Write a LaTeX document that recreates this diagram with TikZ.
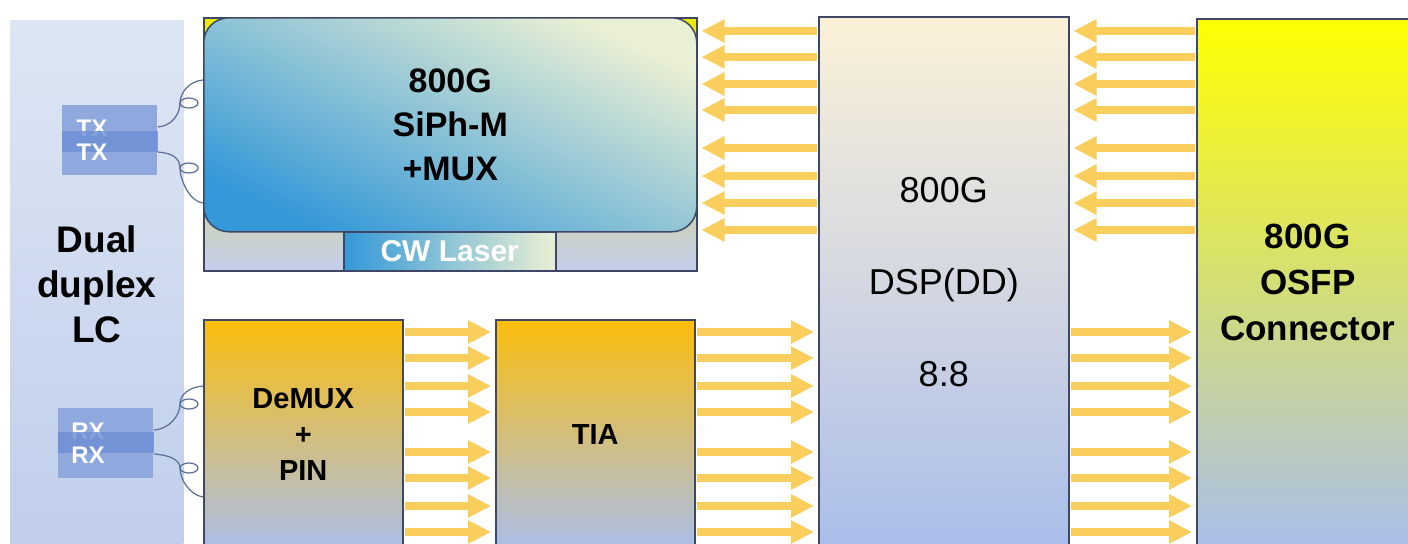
\documentclass[tikz,border=0pt]{standalone}
\usepackage{fontspec}
\setmainfont{Liberation Sans}
\usetikzlibrary{arrows.meta}
\definecolor{lctop}{RGB}{221,230,243}
\definecolor{lcbottom}{RGB}{192,206,236}
\definecolor{portblue}{RGB}{143,168,222}
\definecolor{portband}{RGB}{108,142,212}
\definecolor{edgegray}{RGB}{62,72,102}
\definecolor{fibergray}{RGB}{92,110,150}
\definecolor{laneyellow}{RGB}{250,206,92}
\definecolor{chipblue}{RGB}{52,152,216}
\definecolor{chiplight}{RGB}{234,240,212}
\definecolor{rxorange}{RGB}{252,190,12}
\definecolor{rxmid}{RGB}{192,189,178}
\definecolor{paleblue}{RGB}{170,190,234}
\definecolor{dspcream}{RGB}{252,241,216}
\definecolor{dspmid}{RGB}{204,211,227}
\definecolor{osfpyellow}{RGB}{255,255,0}
\definecolor{osfpolive}{RGB}{205,217,140}
\definecolor{corneryellow}{RGB}{235,235,0}
\definecolor{basefill}{RGB}{196,205,236}

\begin{document}
\begin{tikzpicture}[x=0.5pt, y=-0.5pt,
    block/.style={draw=edgegray, line width=0.75pt, rectangle, anchor=north west, inner sep=0pt, align=center},
    lane/.style={draw=laneyellow, line width=4pt, -{Triangle[length=11.5pt, width=11pt]}, shorten >=2pt, shorten <=0.5pt},
    fiber/.style={draw=fibergray, line width=0.6pt},
    porttext/.style={text=white, font=\fontsize{12}{12}\selectfont\bfseries, inner sep=0pt}]
    \useasboundingbox (0,0) rectangle (1408,543);
    \fill[white] (0,0) rectangle (1408,543);

    % Dual duplex LC
    \node[anchor=north west, inner sep=0pt, minimum width=86.5pt, minimum height=264pt, top color=lctop, bottom color=lcbottom, align=center, font=\fontsize{18.5}{22.5}\selectfont\bfseries] (lc) at (10,20) {Dual\\duplex\\LC};

    % TX and RX ports
    \node[anchor=north west, inner sep=0pt, fill=portblue, minimum width=47.5pt, minimum height=35pt] (txlc) at (62,105) {};
    \node[porttext] (txa) at (92,128) {TX};
    \fill[portband, opacity=0.8] (txlc.west |- 0,131) rectangle (txlc.east |- 0,152);
    \node[porttext] (txb) at (92,152) {TX};

    \node[anchor=north west, inner sep=0pt, fill=portblue, minimum width=47.5pt, minimum height=35pt] (rxlc) at (58,408) {};
    \node[porttext] (rxa) at (88,431) {RX};
    \fill[portband, opacity=0.8] (rxlc.west |- 0,432) rectangle (rxlc.east |- 0,453);
    \node[porttext] (rxb) at (88,455) {RX};

    % Transmitter
    \node[block, minimum width=246.5pt, minimum height=126.5pt, top color=corneryellow, bottom color=basefill] (siph) at (203,17) {};
    \node[block, minimum width=246.5pt, minimum height=107pt, rounded corners=12.5pt, bottom color=chipblue, top color=chiplight, shading angle=-25, font=\fontsize{17}{22}\selectfont\bfseries] (mod) at (203,17) {800G\\SiPh-M\\+MUX};
    \node[block, minimum width=106pt, minimum height=19.5pt, left color=chipblue, right color=chiplight, text=white, font=\fontsize{15}{15}\selectfont\bfseries] (laser) at (343,231) {CW Laser};

    % Receiver
    \node[block, minimum width=99.5pt, minimum height=114.5pt, top color=rxorange, middle color=rxmid, bottom color=paleblue, font=\fontsize{14.5}{18}\selectfont\bfseries] (demux) at (203,319) {DeMUX\\+\\PIN};
    \node[block, minimum width=99.5pt, minimum height=114.5pt, top color=rxorange, middle color=rxmid, bottom color=paleblue, font=\fontsize{14.5}{18}\selectfont\bfseries] (tia) at (495,319) {TIA};

    % DSP and connector
    \node[block, minimum width=125pt, minimum height=265pt, top color=dspcream, middle color=dspmid, bottom color=paleblue, font=\fontsize{18}{46}\selectfont] (dsp) at (818,16) {800G\\DSP(DD)\\8:8};
    \node[block, minimum width=111pt, minimum height=264pt, top color=osfpyellow, middle color=osfpolive, bottom color=paleblue, font=\fontsize{17.5}{23}\selectfont\bfseries] (osfp) at (1196,18) {800G\\OSFP\\Connector};

    % Fibers
    \draw[fiber] (txlc.east |- 0,127) .. controls (172,126) and (180,114) .. (180,103) .. controls (180,92) and (190,81) .. (mod.west |- 0,80);
    \draw[fiber] (189,103) ellipse [x radius=4.5pt, y radius=2.5pt];
    \draw[fiber] (txlc.east |- 0,152) .. controls (172,153) and (180,158) .. (180,168) .. controls (180,180) and (190,202) .. (mod.west |- 0,203);
    \draw[fiber] (189,168) ellipse [x radius=4.5pt, y radius=2.5pt];
    \draw[fiber] (rxlc.east |- 0,430) .. controls (170,429) and (180,415) .. (180,404) .. controls (180,394) and (190,387) .. (demux.west |- 0,386);
    \draw[fiber] (189,404) ellipse [x radius=4.5pt, y radius=2.5pt];
    \draw[fiber] (rxlc.east |- 0,454) .. controls (170,455) and (180,460) .. (180,468) .. controls (180,480) and (190,495) .. (demux.west |- 0,497);
    \draw[fiber] (189,468) ellipse [x radius=4.5pt, y radius=2.5pt];

    % Electrical lanes
    \foreach \y in {31,57,84,110,148,176,203,230} {
        \draw[lane] (osfp.west |- 0,\y) -- (dsp.east |- 0,\y);
        \draw[lane] (dsp.west |- 0,\y) -- (siph.east |- 0,\y);
    }
    \foreach \y in {332,358,386,412,452,478,506,532} {
        \draw[lane] (demux.east |- 0,\y) -- (tia.west |- 0,\y);
        \draw[lane] (tia.east |- 0,\y) -- (dsp.west |- 0,\y);
        \draw[lane] (dsp.east |- 0,\y) -- (osfp.west |- 0,\y);
    }
\end{tikzpicture}
\end{document}
